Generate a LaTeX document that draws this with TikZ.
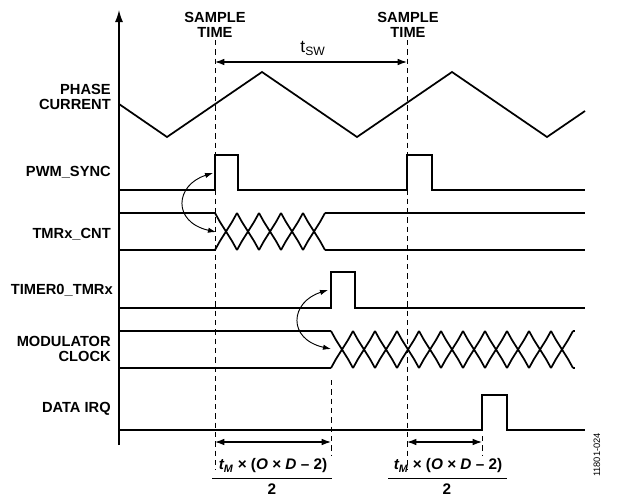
\documentclass[tikz,border=0pt]{standalone}
\usepackage{fontspec}
\setmainfont{Liberation Sans}
\usetikzlibrary{arrows.meta}
\begin{document}
\begin{tikzpicture}[x=0.75pt,y=-0.75pt,font=\bfseries\fontsize{11}{11}\selectfont,
  sig/.style={line width=1.3pt,line join=miter},
  dsh/.style={line width=0.6pt,dash pattern=on 4pt off 3pt},
  dim/.style={line width=0.9pt,{Latex[length=7pt,width=5pt]}-{Latex[length=7pt,width=5pt]}},
  curv/.style={line width=0.7pt,{Latex[length=6pt,width=4pt]}-{Latex[length=6pt,width=4pt]}},
  lab/.style={anchor=east,align=right,inner sep=0pt},
  frac/.style={font=\bfseries\fontsize{11.5}{12}\selectfont,inner sep=0pt}]
\useasboundingbox (0,0) rectangle (620,496);
% axis
\coordinate (ab) at (119,445); \coordinate (at) at (119,10);
\draw[line width=1pt,-{Latex[length=9pt,width=6pt]}] (ab) -- (at);
% dashed
\coordinate (d1t) at (215,40); \coordinate (d1b) at (215,470);
\coordinate (d2t) at (407,40); \coordinate (d2b) at (407,470);
\draw[dsh] (d1t) -- (d1b); \draw[dsh] (d2t) -- (d2b);
\node[align=center,inner sep=0pt] (s1) at (215,25) {SAMPLE\\TIME};
\node[align=center,inner sep=0pt] (s2) at (408,25) {SAMPLE\\TIME};
\coordinate (t1) at (215,62); \coordinate (t2) at (407,62);
\draw[dim] (t1) -- (t2);
\node[font=\fontsize{13}{13}\selectfont] (tsw) at (313,48) {t\textsubscript{SW}};
% labels
\node[lab] (lpc) at (111,97) {PHASE\\CURRENT};
\node[lab] (lpw) at (111,172) {PWM\_SYNC};
\node[lab] (ltm) at (111,234) {TMRx\_CNT};
\node[lab] (lt0) at (113,290) {TIMER0\_TMRx};
\node[lab] (lmc) at (111,349) {MODULATOR\\CLOCK};
\node[lab] (lir) at (111,409) {DATA IRQ};
% phase current
\draw[sig] (119,104) -- (167,137) -- (262,72) -- (357,137) -- (452,72) -- (547,137) -- (585,111);
% PWM_SYNC
\draw[sig] (119,190) -- (215,190) -- (215,155) -- (238,155) -- (238,190) -- (407,190) -- (407,155) -- (432,155) -- (432,190) -- (585,190);
% TMRx_CNT
\draw[sig] (119,213) -- (215,213); \draw[sig] (119,250) -- (215,250);
\foreach \i in {0,...,4}{
  \pgfmathsetmacro\a{215+22*\i}\pgfmathsetmacro\b{237+22*\i}
  \draw[sig] (\a,250) -- (\a+5,241) -- (\b-5,222) -- (\b,213);
  \draw[sig] (\a,213) -- (\a+5,222) -- (\b-5,241) -- (\b,250);
}
\draw[sig] (325,213) -- (585,213); \draw[sig] (325,250) -- (585,250);
% TIMER0
\draw[sig] (119,308) -- (331,308) -- (331,272) -- (355,272) -- (355,308) -- (585,308);
% MODULATOR CLOCK
\draw[sig] (119,331) -- (331,331); \draw[sig] (119,368) -- (331,368);
\foreach \i in {0,...,10}{
  \pgfmathsetmacro\a{331+22*\i}\pgfmathsetmacro\b{353+22*\i}
  \draw[sig] (\a,368) -- (\a+5,359) -- (\b-5,340) -- (\b,331);
  \draw[sig] (\a,331) -- (\a+5,340) -- (\b-5,359) -- (\b,368);
}
\draw[sig] (573,331) -- (575,331) (573,368) -- (575,368);
% DATA IRQ
\draw[sig] (119,430) -- (482,430) -- (482,395) -- (507,395) -- (507,430) -- (585,430);
% curved arrows
\coordinate (c1a) at (213,173); \coordinate (c1b) at (216,232);
\draw[curv] (c1a) .. controls (175,185) and (172,222) .. (c1b);
\coordinate (c2a) at (328,290); \coordinate (c2b) at (331,349);
\draw[curv] (c2a) .. controls (290,302) and (287,339) .. (c2b);
% bottom dims
\coordinate (b1) at (215,442); \coordinate (b2) at (331,442);
\coordinate (b3) at (407,442); \coordinate (b4) at (482,442);
\draw[dim] (b1) -- (b2); \draw[dim] (b3) -- (b4);
\draw[dsh] (331,380) -- (331,455);
\draw[dsh] (482,436) -- (482,455);
\node[frac] (f1n) at (273,466) {\textit{t\textsubscript{M}} × (\textit{O} × \textit{D} – 2)};
\draw[line width=0.6pt] (212,478) -- (332,478);
\node[frac] (f1d) at (272,489) {2};
\node[frac] (f2n) at (448,466) {\textit{t\textsubscript{M}} × (\textit{O} × \textit{D} – 2)};
\draw[line width=0.6pt] (388,478) -- (507,478);
\node[frac] (f2d) at (447,489) {2};
\node[rotate=90,font=\fontsize{7}{7}\selectfont] (id) at (597,455) {11801-024};
\end{tikzpicture}
\end{document}
